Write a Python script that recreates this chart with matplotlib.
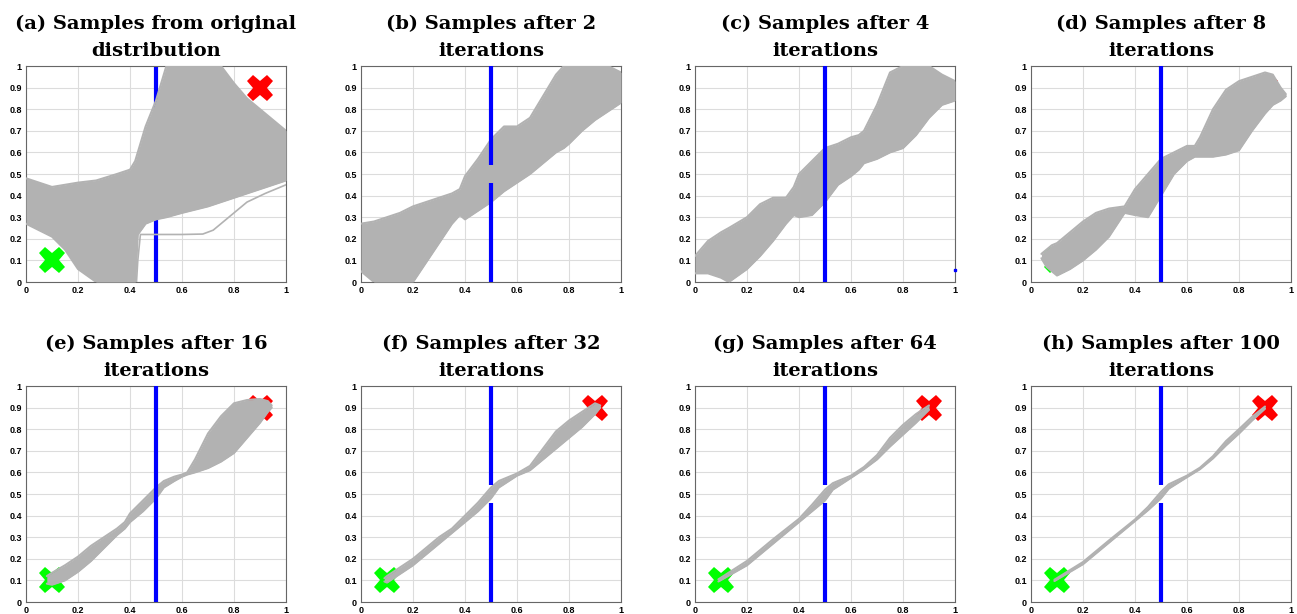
import matplotlib
matplotlib.use("Agg")
import matplotlib.pyplot as plt

# titulos de cada panel
titulos = [
    "(a) Samples from original\ndistribution",
    "(b) Samples after 2\niterations",
    "(c) Samples after 4\niterations",
    "(d) Samples after 8\niterations",
    "(e) Samples after 16\niterations",
    "(f) Samples after 32\niterations",
    "(g) Samples after 64\niterations",
    "(h) Samples after 100\niterations",
]

# envolventes de las muestras (x, borde inferior, borde superior), leidas a ojo
a_x = [0, 0.05, 0.1, 0.15, 0.2, 0.27, 0.35, 0.4, 0.42, 0.43, 0.46, 0.5, 0.54, 0.6, 0.7, 0.75, 0.8, 0.85, 0.9, 0.95, 1.0]
a_low = [0.27, 0.24, 0.21, 0.15, 0.06, 0.0, 0.0, 0.0, 0.0, 0.22, 0.27, 0.29, 0.30, 0.32, 0.35, 0.37, 0.39, 0.41, 0.43, 0.45, 0.47]
a_high = [0.48, 0.46, 0.44, 0.45, 0.46, 0.47, 0.5, 0.52, 0.56, 0.6, 0.72, 0.84, 1.0, 1.0, 1.0, 1.0, 0.92, 0.85, 0.8, 0.75, 0.7]

b_x = [0, 0.05, 0.1, 0.15, 0.2, 0.25, 0.3, 0.35, 0.38, 0.4, 0.45, 0.5, 0.55, 0.6, 0.65, 0.7, 0.75, 0.78, 0.8, 0.85, 0.9, 0.95, 1.0]
b_low = [0.05, 0.0, 0.0, 0.0, 0.0, 0.09, 0.18, 0.27, 0.31, 0.29, 0.33, 0.37, 0.42, 0.46, 0.5, 0.55, 0.6, 0.62, 0.64, 0.7, 0.75, 0.79, 0.83]
b_high = [0.27, 0.28, 0.3, 0.32, 0.35, 0.37, 0.39, 0.41, 0.43, 0.49, 0.57, 0.66, 0.72, 0.72, 0.76, 0.86, 0.96, 1.0, 1.0, 1.0, 1.0, 1.0, 0.97]

c_x = [0, 0.05, 0.1, 0.13, 0.2, 0.25, 0.3, 0.35, 0.38, 0.4, 0.45, 0.5, 0.55, 0.6, 0.63, 0.65, 0.7, 0.75, 0.8, 0.85, 0.9, 0.95, 1.0]
c_low = [0.04, 0.04, 0.02, 0.0, 0.06, 0.12, 0.19, 0.27, 0.31, 0.30, 0.31, 0.37, 0.45, 0.49, 0.52, 0.55, 0.57, 0.6, 0.62, 0.68, 0.76, 0.82, 0.84]
c_high = [0.12, 0.19, 0.23, 0.25, 0.3, 0.36, 0.39, 0.39, 0.44, 0.5, 0.56, 0.62, 0.64, 0.67, 0.68, 0.7, 0.82, 0.97, 1.0, 1.0, 1.0, 0.96, 0.93]

d_x = [0.04, 0.06, 0.08, 0.1, 0.15, 0.2, 0.25, 0.3, 0.36, 0.4, 0.45, 0.5, 0.55, 0.6, 0.63, 0.65, 0.7, 0.75, 0.8, 0.85, 0.9, 0.93, 0.96, 0.98]
d_low = [0.11, 0.07, 0.05, 0.03, 0.06, 0.1, 0.15, 0.21, 0.32, 0.31, 0.30, 0.40, 0.5, 0.56, 0.58, 0.58, 0.58, 0.59, 0.61, 0.7, 0.78, 0.82, 0.84, 0.86]
d_high = [0.13, 0.15, 0.17, 0.18, 0.23, 0.28, 0.32, 0.34, 0.35, 0.43, 0.5, 0.57, 0.6, 0.63, 0.63, 0.67, 0.8, 0.89, 0.93, 0.95, 0.97, 0.96, 0.9, 0.87]

e_x = [0.08, 0.1, 0.15, 0.2, 0.25, 0.3, 0.35, 0.38, 0.4, 0.45, 0.5, 0.53, 0.57, 0.6, 0.62, 0.65, 0.7, 0.75, 0.8, 0.85, 0.9, 0.93, 0.945]
e_low = [0.085, 0.08, 0.1, 0.14, 0.19, 0.25, 0.31, 0.34, 0.37, 0.42, 0.48, 0.53, 0.56, 0.58, 0.59, 0.6, 0.62, 0.65, 0.69, 0.76, 0.83, 0.88, 0.9]
e_high = [0.12, 0.135, 0.17, 0.21, 0.26, 0.3, 0.34, 0.37, 0.41, 0.47, 0.53, 0.56, 0.58, 0.59, 0.6, 0.66, 0.78, 0.86, 0.92, 0.935, 0.94, 0.93, 0.91]

f_x = [0.09, 0.1, 0.2, 0.3, 0.35, 0.4, 0.45, 0.5, 0.53, 0.6, 0.65, 0.7, 0.75, 0.8, 0.85, 0.9, 0.92]
f_low = [0.095, 0.09, 0.17, 0.27, 0.32, 0.37, 0.42, 0.48, 0.53, 0.585, 0.61, 0.66, 0.71, 0.76, 0.81, 0.87, 0.9]
f_high = [0.11, 0.12, 0.2, 0.3, 0.34, 0.4, 0.46, 0.53, 0.56, 0.595, 0.63, 0.71, 0.79, 0.84, 0.88, 0.92, 0.91]

g_x = [0.09, 0.2, 0.3, 0.4, 0.45, 0.5, 0.53, 0.6, 0.65, 0.7, 0.75, 0.8, 0.85, 0.9]
g_low = [0.095, 0.17, 0.27, 0.37, 0.42, 0.47, 0.52, 0.575, 0.615, 0.66, 0.72, 0.775, 0.83, 0.89]
g_high = [0.105, 0.19, 0.29, 0.385, 0.45, 0.52, 0.55, 0.585, 0.625, 0.68, 0.76, 0.82, 0.87, 0.91]

h_x = [0.09, 0.2, 0.3, 0.4, 0.45, 0.5, 0.53, 0.6, 0.65, 0.7, 0.75, 0.8, 0.85, 0.9]
h_low = [0.097, 0.175, 0.275, 0.375, 0.425, 0.48, 0.525, 0.578, 0.615, 0.665, 0.725, 0.78, 0.84, 0.895]
h_high = [0.103, 0.185, 0.285, 0.382, 0.44, 0.51, 0.545, 0.585, 0.622, 0.675, 0.745, 0.8, 0.857, 0.905]

# muestra suelta del panel (a)
a_suelta_x = [0.425, 0.43, 0.44, 0.5, 0.6, 0.68, 0.72, 0.78, 0.85, 0.92, 1.0]
a_suelta_y = [0.0, 0.1, 0.22, 0.22, 0.22, 0.222, 0.24, 0.3, 0.37, 0.41, 0.45]

# punto azul suelto del panel (c)
c_punto = (1.0, 0.057)

envolventes = [(a_x, a_low, a_high), (b_x, b_low, b_high), (c_x, c_low, c_high), (d_x, d_low, d_high),
               (e_x, e_low, e_high), (f_x, f_low, f_high), (g_x, g_low, g_high), (h_x, h_low, h_high)]

# inicio, meta y pared
inicio = (0.1, 0.1)
meta = (0.9, 0.9)
pared_x = 0.5
hueco = (0.46, 0.54)
con_hueco = [False, True, False, False, False, True, True, True]

gris = "#b2b2b2"
W, H = 1297, 614
fig = plt.figure(figsize=(W / 100, H / 100), dpi=100)

izq = [26, 361, 695, 1031]
arriba = [66, 386]
ancho, alto = 260, 216

for i in range(8):
    fila, col = divmod(i, 4)
    ax = fig.add_axes([izq[col] / W, 1 - (arriba[fila] + alto) / H, ancho / W, alto / H])
    ax.set_xlim(0, 1)
    ax.set_ylim(0, 1)
    ax.set_xticks([0, 0.2, 0.4, 0.6, 0.8, 1])
    ax.set_xticklabels(["0", "0.2", "0.4", "0.6", "0.8", "1"])
    ax.set_yticks([k / 10 for k in range(11)])
    ax.set_yticklabels(["0"] + ["0.%d" % k for k in range(1, 10)] + ["1"])
    ax.tick_params(length=0, pad=3, labelsize=6.5)
    for lab in ax.get_xticklabels() + ax.get_yticklabels():
        lab.set_fontfamily("Liberation Sans")
        lab.set_fontweight("bold")
    ax.grid(True, color="#dcdcdc", lw=0.8)
    ax.set_axisbelow(True)
    for s in ax.spines.values():
        s.set_color("#666666")
        s.set_linewidth(0.8)

    ax.plot(*inicio, marker="X", color="#00ff00", markersize=19, mew=0, zorder=2, clip_on=False)
    ax.plot(*meta, marker="X", color="#ff0000", markersize=19, mew=0, zorder=2, clip_on=False)

    x, lo, hi = envolventes[i]
    ax.fill_between(x, lo, hi, color=gris, lw=0, zorder=3)
    ax.plot(x, lo, color=gris, lw=1.5, zorder=3, solid_capstyle="round")
    ax.plot(x, hi, color=gris, lw=1.5, zorder=3, solid_capstyle="round")
    if i == 0:
        ax.plot(a_suelta_x, a_suelta_y, color=gris, lw=1.2, zorder=3)
    if i == 2:
        ax.plot(*c_punto, marker="s", color="#0000ff", markersize=2, zorder=5, clip_on=False)

    zp = 2.5 if i == 0 else 4
    if con_hueco[i]:
        ax.vlines(pared_x, 0, hueco[0], color="#0000ff", lw=3, zorder=zp)
        ax.vlines(pared_x, hueco[1], 1, color="#0000ff", lw=3, zorder=zp)
    else:
        ax.vlines(pared_x, 0, 1, color="#0000ff", lw=3, zorder=zp)

    ax.set_title(titulos[i], fontfamily="DejaVu Serif", fontweight="bold", fontsize=14,
                 linespacing=1.65, pad=7)

fig.savefig("out.png", dpi=100)
